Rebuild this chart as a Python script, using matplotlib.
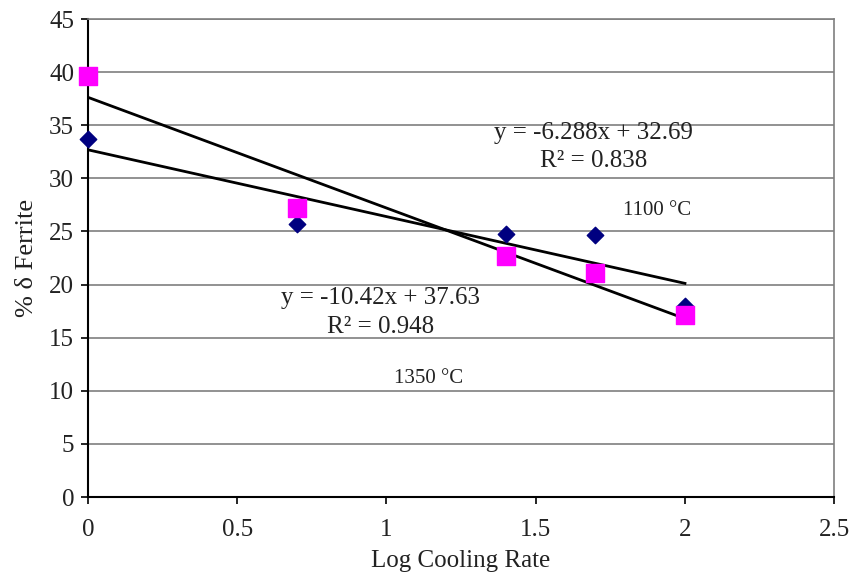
import numpy as np
import matplotlib
matplotlib.use('Agg')
import matplotlib.pyplot as plt

# data
log_rate = [0, 0.7, 1.4, 1.7, 2.0]
ferrite_1100 = [33.7, 25.7, 24.8, 24.7, 18.0]
ferrite_1350 = [39.6, 27.2, 22.7, 21.1, 17.1]
# trendline coefficients (slope, intercept) as printed on the chart
fit_1100 = (-6.288, 32.69)
fit_1350 = (-10.42, 37.63)
x_ticks = [0, 0.5, 1, 1.5, 2, 2.5]
y_ticks = list(range(0, 46, 5))

plt.rcParams['font.family'] = ['Liberation Serif', 'DejaVu Serif']

fig = plt.figure(figsize=(8.6, 5.77), dpi=100)
ax = fig.add_axes([0.1023, 0.1386, 0.8677, 0.8284])

for yv in y_ticks[1:]:
    ax.axhline(yv, color='#7f7f7f', lw=1.2, zorder=1)

# trendlines
xs = np.array([0, 2])
ax.plot(xs, fit_1100[0] * xs + fit_1100[1], color='black', lw=2, zorder=2)
ax.plot(xs, fit_1350[0] * xs + fit_1350[1], color='black', lw=2, zorder=2)

ax.scatter(log_rate, ferrite_1100, marker='D', s=70, color='#000080', zorder=3, clip_on=False)
ax.scatter(log_rate, ferrite_1350, marker='s', s=170, color='#ff00ff', zorder=4, clip_on=False)

ax.set_xlim(0, 2.5)
ax.set_ylim(0, 45)
ax.set_xticks(x_ticks)
ax.set_xticklabels(['0', '0.5', '1', '1.5', '2', '2.5'])
ax.set_yticks(y_ticks)
ax.tick_params(axis='both', direction='out', length=5, width=1.2, labelsize=18,
               colors='black', labelcolor='#222222')
ax.tick_params(axis='x', pad=11)
ax.tick_params(axis='y', pad=5)

ax.spines['left'].set_linewidth(1.5)
ax.spines['bottom'].set_linewidth(1.5)
ax.spines['right'].set_color('#7f7f7f')
ax.spines['right'].set_linewidth(1.2)
ax.spines['top'].set_color('#7f7f7f')
ax.spines['top'].set_linewidth(1.2)

ax.set_xlabel('Log Cooling Rate', fontsize=18, labelpad=6, color='#222222')
ax.set_ylabel('% δ Ferrite', fontsize=19, labelpad=8, color='#222222')

ax.text(1.695, 34.3, 'y = -6.288x + 32.69', fontsize=18, ha='center', va='center', color='#222222')
ax.text(1.695, 31.6, 'R² = 0.838', fontsize=18, ha='center', va='center', color='#222222')
ax.text(1.905, 27.0, '1100 °C', fontsize=15, ha='center', va='center', color='#222222')
ax.text(0.98, 18.7, 'y = -10.42x + 37.63', fontsize=18, ha='center', va='center', color='#222222')
ax.text(0.98, 16.0, 'R² = 0.948', fontsize=18, ha='center', va='center', color='#222222')
ax.text(1.14, 11.2, '1350 °C', fontsize=15, ha='center', va='center', color='#222222')

fig.savefig('out.png', dpi=100)
